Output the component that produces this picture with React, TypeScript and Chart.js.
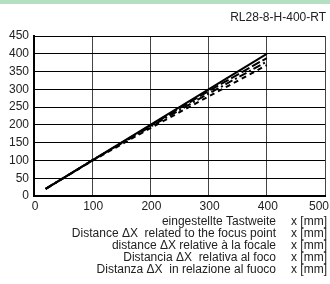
import React, { useEffect, useRef } from "react";
import { Chart, registerables } from "chart.js";

Chart.register(...registerables);

const xValues = [20, 100, 200, 300, 400];
const solidValues = [20, 100, 200, 300, 400];
const longDashValues = [20, 100, 198, 295, 388];
const dashDotValues = [20, 100, 195, 288, 378];
const shortDashValues = [20, 99, 191, 280, 368];

const xTicks = [0, 100, 200, 300, 400, 500];
const yTicks = [0, 50, 100, 150, 200, 250, 300, 350, 400, 450];

const title = "RL28-8-H-400-RT";
const axisLabels = [
  "eingestellte Tastweite",
  "Distance \u0394X  related to the focus point",
  "distance \u0394X relative \u00e0 la focale",
  "Distancia \u0394X  relativa al foco",
  "Distanza \u0394X  in relazione al fuoco",
];
const unitLabel = "x [mm]";

const FONT = "'Liberation Sans', Arial, Helvetica, sans-serif";

const toPoints = (ys: number[]) => xValues.map((x, i) => ({ x, y: ys[i] }));

const textPlugin = {
  id: "textPlugin",
  afterDraw(chart: any) {
    const ctx = chart.ctx;
    ctx.save();
    ctx.fillStyle = "#b5dfc3";
    ctx.fillRect(0, 0, chart.width, 4);
    ctx.fillStyle = "#222";
    ctx.font = `12px ${FONT}`;
    ctx.textBaseline = "middle";
    ctx.textAlign = "right";
    ctx.fillText(title, 326, 18);
    const xs = chart.scales.x;
    xTicks.forEach((v) => {
      const px = xs.getPixelForValue(v);
      const w = ctx.measureText(String(v)).width;
      let left = px - w / 2 + 1;
      if (left + w > 329) left = 329 - w;
      ctx.textAlign = "left";
      ctx.fillText(String(v), left, 207);
    });
    axisLabels.forEach((t, i) => {
      const y = 222 + i * 11.8;
      ctx.textAlign = "right";
      ctx.fillText(t, 276, y);
      ctx.textAlign = "left";
      ctx.fillText(unitLabel, 291, y);
    });
    ctx.restore();
  },
};

export default function App() {
  const ref = useRef<HTMLCanvasElement>(null);
  useEffect(() => {
    document.body.style.margin = "0";
    const mk = (data: number[], dash: number[]) => ({
      data: toPoints(data),
      borderColor: "#000",
      borderWidth: 2,
      borderDash: dash,
      pointRadius: 0,
      fill: false,
      tension: 0,
    });
    const chart = new Chart(ref.current!, {
      type: "line",
      data: {
        datasets: [
          mk(solidValues, []),
          mk(longDashValues, [9, 3]),
          mk(dashDotValues, [8, 3, 2, 3]),
          mk(shortDashValues, [5, 4]),
        ],
      },
      options: {
        animation: false,
        responsive: false,
        events: [],
        layout: { padding: { left: 0, right: 5, top: 36, bottom: 0 }, autoPadding: false } as any,
        plugins: { legend: { display: false }, tooltip: { enabled: false } },
        scales: {
          x: {
            type: "linear",
            min: 0,
            max: 500,
            afterBuildTicks: (s: any) => {
              s.ticks = xTicks.map((v) => ({ value: v }));
            },
            afterFit: (s: any) => {
              s.height = 88;
              s.paddingLeft = 0;
              s.paddingRight = 0;
              s.paddingTop = 0;
              s.paddingBottom = 0;
            },
            grid: { color: "#444", lineWidth: 1, drawTicks: false },
            border: { color: "#000", width: 2 },
            ticks: { display: false },
          },
          y: {
            type: "linear",
            min: 0,
            max: 450,
            afterBuildTicks: (s: any) => {
              s.ticks = yTicks.map((v) => ({ value: v }));
            },
            afterFit: (s: any) => {
              s.width = 34;
              s.paddingLeft = 0;
              s.paddingRight = 0;
              s.paddingTop = 0;
              s.paddingBottom = 0;
            },
            grid: { color: "#000", lineWidth: 1, drawTicks: false },
            border: { color: "#000", width: 2 },
            ticks: { color: "#222", font: { family: FONT, size: 12 }, padding: 5 },
          },
        },
      },
      plugins: [textPlugin],
    });
    return () => chart.destroy();
  }, []);
  return (
    <div style={{ position: "absolute", left: 0, top: 0, width: 330, height: 284 }}>
      <canvas ref={ref} width={330} height={284} style={{ width: 330, height: 284 }} />
    </div>
  );
}
